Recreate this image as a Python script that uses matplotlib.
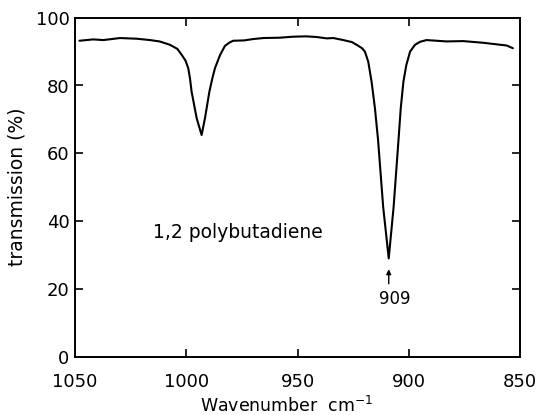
import matplotlib
matplotlib.use("Agg")
import matplotlib.pyplot as plt

# IR transmission spectrum of 1,2-polybutadiene (wavenumber in cm^-1, transmission in %)
wavenumber = [
    1048.0, 1041.8, 1037.3, 1029.8, 1022.3, 1016.3, 1012.0, 1007.3, 1004.0,
    1002.0, 1000.3, 999.1, 998.3, 997.6, 995.3, 993.1, 991.6, 989.6, 988.2,
    987.1, 984.8, 982.6, 980.5, 978.9, 974.0, 969.9, 965.4, 958.0, 951.9,
    946.0, 941.4, 936.9, 933.9, 929.4, 925.5, 923.4, 921.0, 919.7, 918.2,
    916.7, 915.2, 913.8, 911.5, 909.0, 906.8, 904.6, 903.6, 902.4, 901.1,
    899.4, 897.2, 894.9, 892.0, 883.0, 875.5, 866.5, 856.0, 853.2,
]
transmission = [
    93.2, 93.6, 93.4, 94.0, 93.8, 93.4, 93.0, 92.0, 90.8,
    89.0, 87.3, 85.1, 82.0, 78.2, 70.3, 65.4, 70.3, 78.2, 82.3,
    85.1, 89.0, 91.7, 92.7, 93.2, 93.3, 93.7, 94.0, 94.1, 94.4,
    94.5, 94.3, 93.9, 94.0, 93.4, 92.8, 92.0, 91.0, 90.0, 87.0,
    81.1, 73.3, 64.0, 44.2, 29.0, 44.2, 64.0, 73.3, 81.1, 86.0,
    90.0, 92.0, 92.9, 93.4, 93.0, 93.1, 92.6, 91.8, 91.0,
]

peak_position = 909
peak_label = "909"
sample_name = "1,2 polybutadiene"

x_ticks = [1050, 1000, 950, 900, 850]
y_ticks = [0, 20, 40, 60, 80, 100]

plt.rcParams["font.family"] = ["DejaVu Sans"]
plt.rcParams["mathtext.fontset"] = "dejavusans"

fig = plt.figure(figsize=(5.4, 4.15), dpi=100)
ax = fig.add_axes([75 / 540, 1 - 356.7 / 415, 445 / 540, 339 / 415])

ax.plot(wavenumber, transmission, color="black", lw=1.5,
        solid_joinstyle="round", solid_capstyle="round")

ax.set_xlim(1050, 850)
ax.set_ylim(0, 100)

ax.set_xticks(x_ticks)
ax.set_xticklabels([str(t) for t in x_ticks])
ax.set_yticks(y_ticks)
ax.set_yticklabels([str(t) for t in y_ticks])

for s in ax.spines.values():
    s.set_linewidth(1.4)

ax.tick_params(axis="both", direction="in", length=6, width=1.2,
               top=True, right=True, labelsize=13)
ax.tick_params(axis="x", pad=12)
ax.tick_params(axis="y", pad=4)

# hide tick marks that would sit on the frame corners
for t in ax.xaxis.get_major_ticks():
    if t.get_loc() in (1050, 850):
        t.tick1line.set_visible(False)
        t.tick2line.set_visible(False)
for t in ax.yaxis.get_major_ticks():
    if t.get_loc() in (0, 100):
        t.tick1line.set_visible(False)
        t.tick2line.set_visible(False)

ax.set_ylabel("transmission (%)", fontsize=13.5)
ax.yaxis.set_label_coords(-(75 - 27) / 445, 0.5)
fig.text(287 / 540, 0.008, "Wavenumber  cm$^{-1}$", ha="center", va="baseline",
         fontsize=12.5)

ax.text(1015, 36.7, sample_name, ha="left", va="center", fontsize=13.5)

ax.annotate("", xy=(peak_position, 25.8), xytext=(peak_position, 21.5),
            arrowprops=dict(arrowstyle="-|>", color="black", lw=1.0,
                            mutation_scale=7, shrinkA=0, shrinkB=0))
ax.text(peak_position - 2.5, 17, peak_label, ha="center", va="center", fontsize=12)

fig.savefig("out.png", dpi=100)
